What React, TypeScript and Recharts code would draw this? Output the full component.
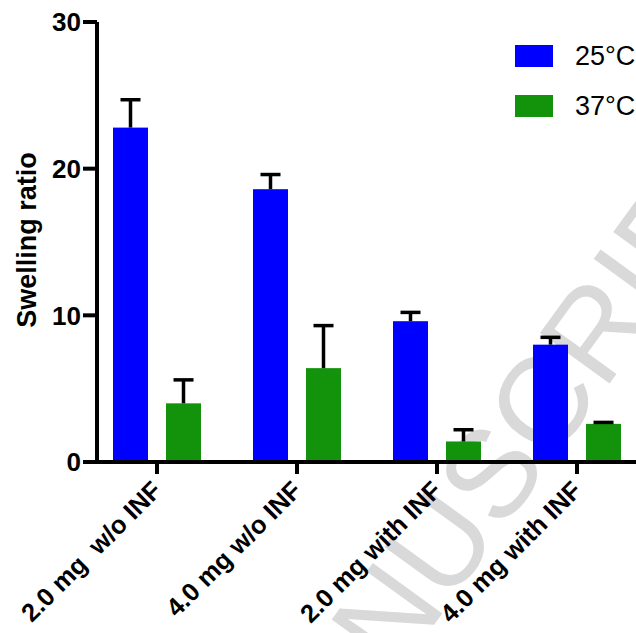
import { Bar, BarChart, XAxis, YAxis } from "recharts";

const groups = ["2.0 mg  w/o INF", "4.0 mg w/o INF", "2.0 mg with INF", "4.0 mg with INF"];
const ratio25 = [22.8, 18.6, 9.6, 8.0];
const err25 = [1.9, 1.0, 0.6, 0.5];
const ratio37 = [4.0, 6.4, 1.4, 2.6];
const err37 = [1.6, 2.9, 0.8, 0.1];
const yTicks = [0, 10, 20, 30];
const seriesNames = ["25°C", "37°C"];

const BLUE = "#0000FE";
const GREEN = "#13930B";

const data = groups.map((g, i) => ({
  group: g,
  t25: ratio25[i],
  e25: err25[i],
  t37: ratio37[i],
  e37: err37[i],
}));

// bar plus an upward-only error bar, scaled from the bar's own height
function barWithError(errKey: string) {
  return (props: any) => {
    const { x, y, width, height, fill, payload, value } = props;
    const v = Array.isArray(value) ? value[1] : value;
    const perUnit = v ? height / v : 0;
    const top = y - payload[errKey] * perUnit;
    const cx = x + width / 2;
    return (
      <g>
        <rect x={x} y={y} width={width} height={height} fill={fill} />
        <line x1={cx} x2={cx} y1={y} y2={top} stroke="#000" strokeWidth={3.5} />
        <line x1={cx - 10} x2={cx + 10} y1={top} y2={top} stroke="#000" strokeWidth={3.5} />
      </g>
    );
  };
}

function GroupTick({ x, y, payload }: any) {
  return (
    <text
      transform={`translate(${x + 6},${y + 18}) rotate(-45)`}
      textAnchor="end"
      fontSize={25.5}
      fontWeight="bold"
      fill="#000"
      style={{ whiteSpace: "pre" }}
    >
      {payload.value}
    </text>
  );
}

function YLabel() {
  return (
    <text
      transform="translate(36,240) rotate(-90)"
      textAnchor="middle"
      fontSize={27}
      fontWeight="bold"
      fill="#000"
    >
      Swelling ratio
    </text>
  );
}

export default function App() {
  const colors = [BLUE, GREEN];
  return (
    <div
      style={{
        position: "fixed",
        top: 0,
        left: 0,
        width: 636,
        height: 633,
        overflow: "hidden",
        background: "#fff",
        fontFamily: "'Liberation Sans', Arial, sans-serif",
      }}
    >
      <svg width={636} height={633} style={{ position: "absolute", left: 0, top: 0 }}>
        <text
          transform="translate(285,830) rotate(-54)"
          fontSize={125}
          fill="#d9d9d9"
          fontFamily="'Liberation Sans', Arial, sans-serif"
        >
          MANUSCRIPT
        </text>
      </svg>
      <BarChart
        width={636}
        height={633}
        data={data}
        margin={{ top: 22, right: 0, bottom: 0, left: 0 }}
        barSize={35}
        barGap={18}
      >
        <XAxis
          dataKey="group"
          height={171}
          padding={{ left: -10, right: -11 }}
          interval={0}
          tickSize={12}
          tickMargin={0}
          axisLine={{ stroke: "#000", strokeWidth: 4 }}
          tickLine={{ stroke: "#000", strokeWidth: 4 }}
          tick={<GroupTick />}
        />
        <YAxis
          width={97}
          domain={[0, 30]}
          ticks={yTicks}
          interval={0}
          tickSize={14}
          tickMargin={2}
          axisLine={{ stroke: "#000", strokeWidth: 4 }}
          tickLine={{ stroke: "#000", strokeWidth: 4 }}
          tick={{ fontSize: 26, fontWeight: "bold", fill: "#000" }}
          label={<YLabel />}
        />
        <Bar dataKey="t25" name={seriesNames[0]} fill={BLUE} isAnimationActive={false} shape={barWithError("e25")} />
        <Bar dataKey="t37" name={seriesNames[1]} fill={GREEN} isAnimationActive={false} shape={barWithError("e37")} />
      </BarChart>
      <div style={{ position: "absolute", left: 515, top: 31 }}>
        {seriesNames.map((name, i) => (
          <div key={name} style={{ display: "flex", alignItems: "center", height: 50 }}>
            <div style={{ width: 38, height: 22, background: colors[i], marginRight: 22 }} />
            <span style={{ fontSize: 27, color: "#000", whiteSpace: "nowrap" }}>{name}</span>
          </div>
        ))}
      </div>
    </div>
  );
}
